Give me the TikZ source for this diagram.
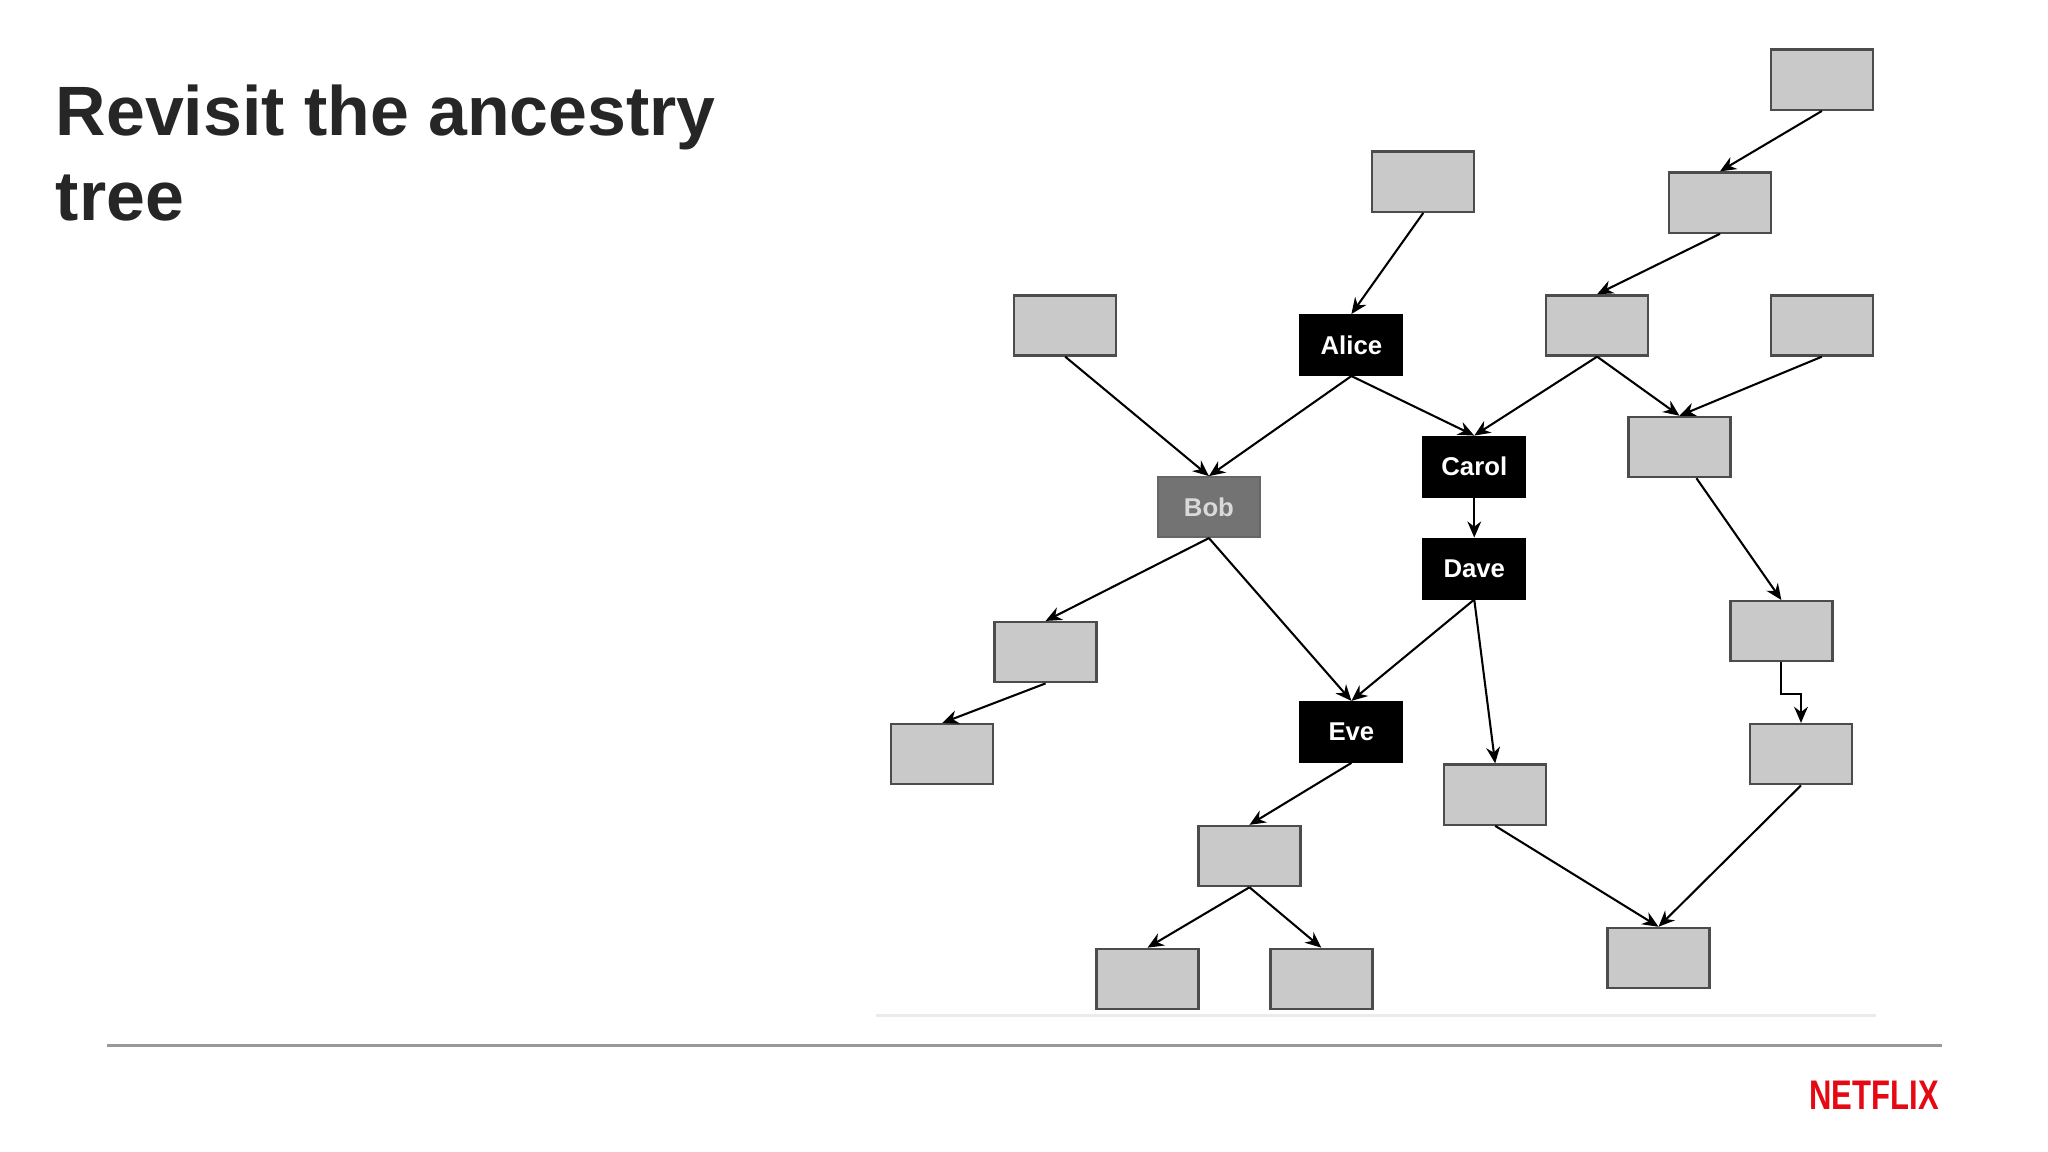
\documentclass[tikz,border=0pt]{standalone}
\usepackage{fontspec}
\setmainfont{Liberation Sans}
\usetikzlibrary{arrows.meta,calc}
\definecolor{boxgray}{HTML}{C9C9C9}
\definecolor{nred}{HTML}{E50914}
\tikzset{
 gbox/.style={draw=black!70,fill=boxgray,minimum width=0.78cm,minimum height=0.46cm,inner sep=0pt,line width=0.5pt},
 kbox/.style={draw=black,fill=black,text=white,font=\bfseries\fontsize{5.6}{6}\selectfont,minimum width=0.78cm,minimum height=0.46cm,inner sep=0pt},
 bbox/.style={kbox,draw=black!60,fill=black!55,text=black!15},
 arr/.style={-{Stealth[length=3.5pt,width=3pt]},line width=0.45pt}
}
\begin{document}
\begin{tikzpicture}[x=0.01cm,y=-0.01cm]
\useasboundingbox (0,0) rectangle (1567,881.4);
\node[anchor=north west,align=left,font=\bfseries\fontsize{15.2}{18.5}\selectfont,text=black!85,inner sep=0pt] (title) at (42,64) {Revisit the ancestry\\tree};
\node[gbox] (t1) at (1394,61) {};
\node[gbox] (t2) at (1089,139) {};
\node[gbox] (t3) at (1316,155) {};
\node[gbox] (l1) at (815,249) {};
\node[kbox] (alice) at (1034,264) {Alice};
\node[gbox] (g3) at (1222,249) {};
\node[gbox] (g4) at (1394,249) {};
\node[kbox] (carol) at (1128,357) {Carol};
\node[gbox] (g5) at (1285,342) {};
\node[bbox] (bob) at (925,388) {Bob};
\node[kbox] (dave) at (1128,435) {Dave};
\node[gbox] (g6) at (800,499) {};
\node[gbox] (g7) at (1363,483) {};
\node[kbox] (eve) at (1034,560) {Eve};
\node[gbox] (g8) at (721,577) {};
\node[gbox] (g9) at (1144,608) {};
\node[gbox] (g10) at (1378,577) {};
\node[gbox] (g11) at (956,655) {};
\node[gbox] (g12) at (1269,733) {};
\node[gbox] (g13) at (878,749) {};
\node[gbox] (g14) at (1011,749) {};
\draw[arr] (t2.south) -- (alice.north);
\draw[arr] (t1.south) -- (t3.north);
\draw[arr] (t3.south) -- (g3.north);
\draw[arr] (l1.south) -- (bob.north);
\draw[arr] (alice.south) -- (bob.north);
\draw[arr] (alice.south) -- (carol.north);
\draw[arr] (g3.south) -- (carol.north);
\draw[arr] (g3.south) -- (g5.north);
\draw[arr] (g4.south) -- (g5.north);
\draw[arr] (carol.south) -- (dave.north);
\draw[arr] (bob.south) -- (g6.north);
\draw[arr] (bob.south) -- (eve.north);
\draw[arr] (dave.south) -- (eve.north);
\draw[arr] (dave.south) -- (g9.north);
\draw[arr] ($(g5.south)+(13,0)$) -- (g7.north);
\draw[arr] (g7.south) |- ($(g10.north)+(0,-22)$) -- (g10.north);
\draw[arr] (g6.south) -- (g8.north);
\draw[arr] (eve.south) -- (g11.north);
\draw[arr] (g9.south) -- (g12.north);
\draw[arr] (g10.south) -- (g12.north);
\draw[arr] (g11.south) -- (g13.north);
\draw[arr] (g11.south) -- (g14.north);
\coordinate (fa) at (670,777); \coordinate (fb) at (1435,777);
\draw[black!8,line width=0.5pt] (fa) -- (fb);
\coordinate (sa) at (82,800); \coordinate (sb) at (1486,800);
\draw[black!40,line width=0.8pt] (sa) -- (sb);
\node[font=\bfseries\fontsize{9}{10}\selectfont,text=nred,xscale=0.75,inner sep=0pt] (nf) at (1434,838) {NETFLIX};
\end{tikzpicture}
\end{document}
